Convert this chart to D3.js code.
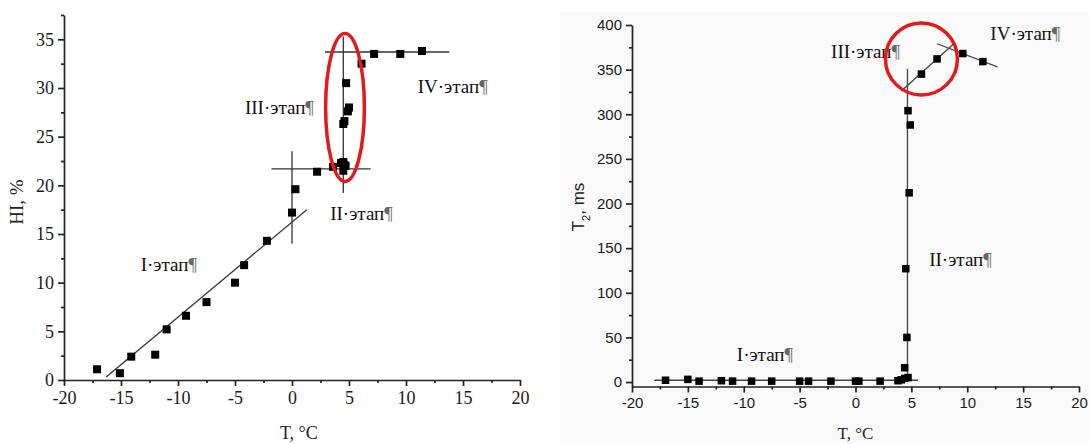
<!DOCTYPE html>
<html>
<head>
<meta charset="utf-8">
<script src="https://cdn.jsdelivr.net/npm/d3@7"></script>
<style>
  body { margin: 0; background: #fff; }
  svg { display: block; }
</style>
</head>
<body>
<div id="chart"></div>
<script>
// ---- data ----
// left panel: HI, % vs T
let hiTemp = [-17.1, -15.1, -14.1, -12.0, -11.0, -9.3, -7.5, -5.0, -4.2, -2.2, 0.0, 0.3, 2.2, 3.6,
              4.3, 4.5, 4.6, 4.7, 4.5, 4.5, 4.6, 4.9, 5.0, 4.75, 6.1, 7.2, 9.5, 11.4];
let hiValue = [1.1, 0.7, 2.4, 2.6, 5.2, 6.6, 8.0, 10.0, 11.8, 14.3, 17.2, 19.6, 21.4, 21.9,
               22.3, 22.4, 22.1, 22.0, 21.5, 26.3, 26.6, 27.6, 28.0, 30.5, 32.5, 33.5, 33.5, 33.8];
let hiLines = [
    [[-16.3, 0.3], [1.3, 17.5]],
    [[0, 14.0], [0, 23.5]],
    [[-1.8, 21.7], [6.9, 21.7]],
    [[4.5, 19.2], [4.5, 35.3]],
    [[2.9, 33.7], [13.8, 33.7]]
];
let hiStages = [
    {text: "I·этап", x: -10.8, y: 11.2},
    {text: "II·этап", x: 6.1, y: 16.4},
    {text: "III·этап", x: -1.1, y: 27.3},
    {text: "IV·этап", x: 14.1, y: 29.5}
];
let hiMark = {x: 4.65, y: 28.0, rx: 1.7, ry: 7.6};

// right panel: T2, ms vs T
let t2Temp = [-17.0, -15.0, -14.0, -12.0, -11.0, -9.3, -7.5, -5.0, -4.2, -2.2, 0.0, 0.3, 2.2,
              3.8, 4.1, 4.4, 4.7, 4.4, 4.6, 4.5, 4.8, 4.9, 4.7, 5.9, 7.3, 9.6, 11.4];
let t2Value = [2, 3, 1, 1.5, 1, 1, 1, 1, 1, 1, 1, 1, 1,
               1.5, 2.5, 4, 5, 16, 50, 127, 212, 288, 304, 345, 362, 368, 359];
let t2Lines = [
    [[-18.0, 2], [5.6, 2]],
    [[4.65, 0], [4.65, 351]],
    [[4.1, 326], [8.8, 379]],
    [[7.3, 379], [12.7, 353]]
];
let t2Stages = [
    {text: "I·этап", x: -8.1, y: 24},
    {text: "II·этап", x: 9.4, y: 130},
    {text: "III·этап", x: 0.9, y: 363},
    {text: "IV·этап", x: 15.2, y: 383}
];
let t2Mark = {x: 5.9, y: 362, r: 36};

let xMajor = [-20, -15, -10, -5, 0, 5, 10, 15, 20];
let xMinor = [-17.5, -12.5, -7.5, -2.5, 2.5, 7.5, 12.5, 17.5];
let hiMajor = [0, 5, 10, 15, 20, 25, 30, 35];
let hiMinor = [2.5, 7.5, 12.5, 17.5, 22.5, 27.5, 32.5, 37.5];
let t2Major = [0, 50, 100, 150, 200, 250, 300, 350, 400];
let t2Minor = [25, 75, 125, 175, 225, 275, 325, 375];

// ---- drawing ----
let svg = d3.select("#chart").append("svg").attr("width", 1089).attr("height", 444);

// faint backdrop of the scanned right figure
svg.append("rect").attr("x", 560).attr("y", 12).attr("width", 529).attr("height", 432).attr("fill", "#f9f9f9");

function drawPanel(p) {
    let x = d3.scaleLinear().domain([-20, 20]).range(p.xRange);
    let y = d3.scaleLinear().domain(p.yDomain).range(p.yRange);
    let g = svg.append("g");
    let base = y(p.yDomain[0]);

    // x axis
    let xa = g.append("g").attr("transform", "translate(0," + base + ")");
    xa.call(d3.axisBottom(x).tickValues(xMajor).tickSize(6).tickSizeOuter(0).tickPadding(p.xPad).tickFormat(d => String(d)));
    xa.append("g").call(d3.axisBottom(x).tickValues(xMinor).tickSize(3).tickFormat(""))
        .select(".domain").remove();
    // y axis
    let ya = g.append("g").attr("transform", "translate(" + p.xRange[0] + ",0)");
    ya.call(d3.axisLeft(y).tickValues(p.yMajor).tickSize(6).tickSizeOuter(0).tickPadding(4).tickFormat(d => String(d)));
    ya.append("g").call(d3.axisLeft(y).tickValues(p.yMinor).tickSize(3).tickFormat(""))
        .select(".domain").remove();

    g.selectAll(".domain, .tick line").attr("stroke", "#222").attr("stroke-width", 1.7);
    g.selectAll(".tick text").attr("fill", "#1a1a1a").attr("style", p.tickFont);

    // fit lines
    p.lines.forEach(seg => {
        g.append("line")
            .attr("x1", x(seg[0][0])).attr("y1", y(seg[0][1]))
            .attr("x2", x(seg[1][0])).attr("y2", y(seg[1][1]))
            .attr("stroke", p.lineColor).attr("stroke-width", 1.3);
    });

    // square markers
    let s = p.markSize;
    p.xs.forEach((t, i) => {
        g.append("rect")
            .attr("x", x(t) - s / 2).attr("y", y(p.ys[i]) - s / 2)
            .attr("width", s).attr("height", s).attr("fill", "#000");
    });

    // stage labels
    p.stages.forEach(st => {
        let txt = g.append("text").attr("x", x(st.x)).attr("y", y(st.y))
            .attr("text-anchor", "middle").attr("fill", "#111")
            .attr("style", "font: 19px 'Liberation Serif', serif");
        txt.append("tspan").text(st.text);
        txt.append("tspan").text("¶").attr("fill", "#666");
    });

    // red highlight
    if (p.mark.r) {
        g.append("circle").attr("cx", x(p.mark.x)).attr("cy", y(p.mark.y)).attr("r", p.mark.r)
            .attr("fill", "none").attr("stroke", "#e3191b").attr("stroke-width", 3.5);
    } else {
        g.append("ellipse").attr("cx", x(p.mark.x)).attr("cy", y(p.mark.y))
            .attr("rx", x(p.mark.x + p.mark.rx) - x(p.mark.x))
            .attr("ry", y(p.mark.y - p.mark.ry) - y(p.mark.y))
            .attr("fill", "none").attr("stroke", "#e3191b").attr("stroke-width", 3.5);
    }

    // axis titles
    g.append("text").attr("x", x(p.xTitleAt)).attr("y", 439).attr("text-anchor", "middle")
        .attr("fill", "#222").attr("style", p.xTitleFont)
        .text("T, °C");
    let yt = g.append("text").attr("text-anchor", "middle").attr("fill", "#222")
        .attr("transform", "translate(" + p.yTitlePos[0] + "," + p.yTitlePos[1] + ") rotate(-90)")
        .attr("style", p.yTitleFont);
    p.yTitle(yt);
}

drawPanel({
    xRange: [64, 520], yDomain: [0, 37.5], yRange: [380, 15],
    yMajor: hiMajor, yMinor: hiMinor, xPad: 5, markSize: 8,
    tickFont: "font: 18px 'Liberation Serif', serif",
    lineColor: "#333",
    xs: hiTemp, ys: hiValue, lines: hiLines, stages: hiStages, mark: hiMark,
    xTitleAt: 0.6, xTitleFont: "font: 18px 'Liberation Serif', serif",
    yTitlePos: [23, 202],
    yTitleFont: "font: 19px 'Liberation Serif', serif",
    yTitle: t => t.text("HI, %")
});

drawPanel({
    xRange: [632, 1079], yDomain: [-5, 400], yRange: [386.5, 25],
    yMajor: t2Major, yMinor: t2Minor, xPad: 5, markSize: 7.5,
    tickFont: "font: 15px 'Liberation Sans', sans-serif",
    lineColor: "#444",
    xs: t2Temp, ys: t2Value, lines: t2Lines, stages: t2Stages, mark: t2Mark,
    xTitleAt: 0, xTitleFont: "font: 17px 'Liberation Serif', serif",
    yTitlePos: [584, 207],
    yTitleFont: "font: 17px 'Liberation Sans', sans-serif",
    yTitle: t => {
        t.append("tspan").text("T");
        t.append("tspan").text("2").attr("baseline-shift", "sub").attr("font-size", 11);
        t.append("tspan").text(", ms");
    }
});
</script>
</body>
</html>
